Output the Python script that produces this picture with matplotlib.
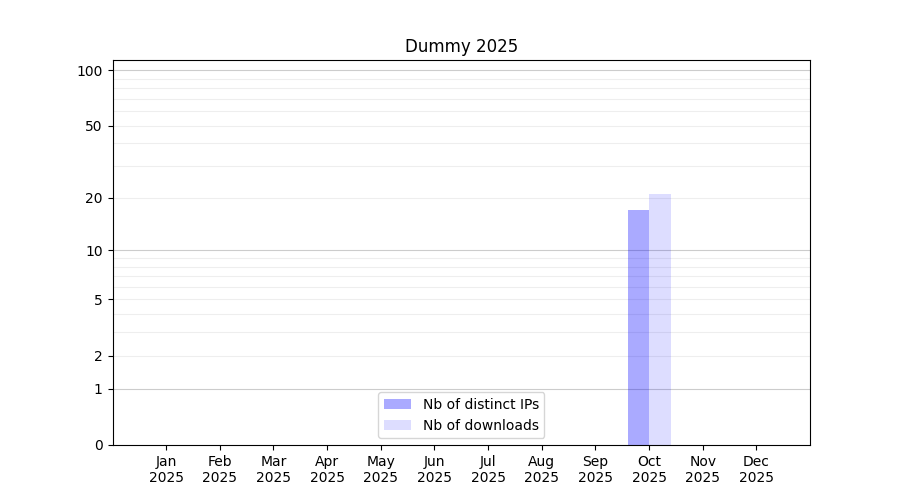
import numpy as np
import matplotlib
matplotlib.use("Agg")
import matplotlib.pyplot as plt

months = ['Jan', 'Feb', 'Mar', 'Apr', 'May', 'Jun',
          'Jul', 'Aug', 'Sep', 'Oct', 'Nov', 'Dec']
year = '2025'
distinct_ips = [0, 0, 0, 0, 0, 0, 0, 0, 0, 17, 0, 0]
downloads = [0, 0, 0, 0, 0, 0, 0, 0, 0, 21, 0, 0]
ytick_values = [0, 1, 2, 5, 10, 20, 50, 100]
major_grid = [1, 10, 100]
minor_grid = [2, 3, 4, 5, 6, 7, 8, 9, 20, 30, 40, 50, 60, 70, 80, 90]

x = np.arange(len(months))
width = 0.4

fig, ax = plt.subplots(figsize=(9, 5), dpi=100)

# echelle log(1+x) pour garder le zero
ax.set_yscale('function', functions=(lambda v: np.log10(1 + np.clip(v, 0, None)),
                                     lambda v: 10 ** v - 1))

for g in minor_grid:
    ax.axhline(g, color='#eeeeee', linewidth=0.8, zorder=0)
for g in major_grid:
    ax.axhline(g, color='#cccccc', linewidth=0.8, zorder=0)

ax.bar(x, distinct_ips, width=-width, align='edge', color='blue', alpha=1/3,
       linewidth=0, label='Nb of distinct IPs', zorder=2)
ax.bar(x, downloads, width=width, align='edge', color='blue', alpha=0.1333,
       linewidth=0, label='Nb of downloads', zorder=2)

ax.set_xticks(x)
ax.set_xticklabels([m + '\n' + year for m in months])
ax.set_xlim(-1, 12)

ax.set_yticks(ytick_values)
ax.set_yticklabels([str(v) for v in ytick_values])
ax.yaxis.set_minor_locator(matplotlib.ticker.NullLocator())
ax.set_ylim(0, 113.5)

ax.set_title('Dummy 2025')
ax.legend(loc='lower center')

fig.savefig('out.png')
